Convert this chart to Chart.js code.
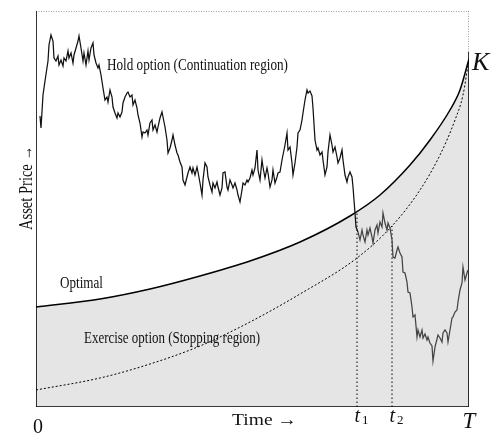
<!DOCTYPE html>
<html>
<head>
<meta charset="utf-8">
<script src="https://cdn.jsdelivr.net/npm/chart.js@4/dist/chart.umd.min.js"></script>
<style>
  body { margin: 0; background: #fff; }
  canvas { display: block; }
</style>
</head>
<body>
<canvas id="chart" width="497" height="436"></canvas>
<script>
// time runs 0..T_END, price 0..PRICE_TOP (arbitrary units)
const T_END = 433;
const PRICE_TOP = 396;
const K = 348;
const K_MARK = 355;

// optimal exercise boundary (solid)
const boundaryTime = [0, 64, 114, 164, 214, 264, 314, 344, 374, 394, 414, 424, 433];
const boundaryPrice = [100, 108, 118, 131, 146, 165, 191, 212, 242, 267, 297, 317, 348];

// lower dotted curve
const lowerTime = [0, 64, 114, 164, 214, 264, 321, 356, 384, 404, 419, 427, 433];
const lowerPrice = [17, 29, 43, 61, 85, 113, 149, 181, 217, 252, 287, 312, 348];

// stopping times t1, t2 and the level where the path hits the curve
const stopTimes = [321, 356];
const stopLevels = [194, 181];
const stopNames = ['1', '2'];

// asset price path [time, price]
const walk = [
  [4,291],[5,279],[7,312],[9,326],[12,346],[13,362],[15,372],[17,366],[18,349],[20,346],
  [22,351],[23,342],[25,347],[27,341],[28,349],[30,346],[32,356],[33,349],[35,354],[37,344],
  [38,352],[40,359],[42,366],[43,371],[45,359],[47,346],[48,354],[50,342],[52,356],[53,347],
  [55,359],[57,364],[58,352],[60,344],[62,339],[63,342],[65,332],[67,319],[69,307],[71,310],
  [72,305],[74,317],[76,310],[77,300],[79,294],[81,289],[82,294],[84,290],[86,295],[87,304],
  [89,310],[91,314],[92,315],[94,310],[96,312],[97,302],[99,307],[101,299],[102,292],[104,284],
  [106,270],[107,275],[109,274],[111,277],[112,272],[114,284],[116,287],[117,277],[119,282],[121,275],
  [122,280],[124,289],[126,295],[127,290],[129,280],[131,267],[132,254],[134,259],[136,267],[137,272],
  [139,262],[141,254],[142,252],[144,245],[146,240],[147,227],[149,222],[151,230],[152,234],[154,240],
  [156,234],[157,239],[159,232],[161,240],[162,235],[164,224],[166,212],[167,227],[169,244],[171,240],
  [172,230],[174,222],[176,215],[177,224],[179,219],[181,225],[182,220],[184,212],[186,219],[187,234],
  [189,235],[191,220],[192,217],[194,227],[196,222],[197,219],[199,224],[201,217],[202,212],[204,205],
  [206,217],[207,224],[209,222],[211,227],[212,225],[214,229],[216,237],[217,232],[219,239],[221,257],
  [222,237],[224,227],[226,247],[227,240],[229,229],[231,239],[232,234],[234,220],[236,227],[237,237],
  [239,224],[241,230],[242,234],[244,235],[246,247],[247,252],[249,262],[251,274],[252,257],[254,260],
  [256,244],[257,232],[259,244],[261,260],[262,274],[264,277],[266,287],[267,294],[269,307],[271,317],
  [272,314],[274,316],[276,311],[277,299],[279,267],[281,257],[282,259],[284,252],[286,255],[287,247],
  [289,232],[291,240],[292,255],[294,272],[296,262],[297,255],[299,260],[301,250],[302,244],[304,249],
  [306,257],[307,247],[309,232],[311,225],[312,230],[314,235],[316,230],[317,220],[318,207],[319,194],
  [320,180],[322,175],[324,167],[326,177],[327,172],[329,165],[331,177],[332,172],[334,179],[336,170],
  [337,164],[339,177],[341,182],[342,174],[344,185],[346,180],[347,194],[349,184],[351,177],[352,184],
  [354,179],[356,167],[357,150],[359,149],[361,157],[362,160],[364,154],[366,150],[367,135],[369,134],
  [371,125],[372,115],[374,114],[376,100],[377,90],[379,92],[381,70],[382,77],[384,70],[386,77],
  [387,69],[389,73],[391,67],[392,70],[394,64],[396,61],[397,46],[399,60],[401,68],[402,72],
  [404,69],[406,65],[407,74],[409,77],[411,74],[412,65],[414,77],[416,89],[417,90],[419,95],
  [421,97],[422,105],[424,117],[426,124],[427,140],[429,127],[431,134],[432,137]
];

const pts = (xs, ys) => xs.map((x, i) => ({x: x, y: ys[i]}));

const SERIF = '"Liberation Serif", "DejaVu Serif", serif';

function lineSet(data, opts) {
  return Object.assign({
    data: data,
    borderColor: '#000',
    borderWidth: 1,
    pointRadius: 0,
    tension: 0,
    fill: false,
    order: 0
  }, opts);
}

function fitText(ctx, text, x, y, width, font) {
  ctx.save();
  ctx.font = font;
  const w = ctx.measureText(text).width;
  ctx.translate(x, y);
  ctx.scale(width / w, 1);
  ctx.fillText(text, 0, 0);
  ctx.restore();
}

const labels = {
  id: 'labels',
  afterDatasetsDraw(chart) {
    const ctx = chart.ctx;
    const xs = chart.scales.x;
    const ys = chart.scales.y;
    const X = (v) => xs.getPixelForValue(v);
    const Y = (v) => ys.getPixelForValue(v);
    ctx.save();
    ctx.fillStyle = '#111';
    ctx.textBaseline = 'alphabetic';
    ctx.textAlign = 'left';

    fitText(ctx, 'Hold option (Continuation region)', X(71), Y(337), 181, `17px ${SERIF}`);
    fitText(ctx, 'Optimal', X(24), Y(119), 43, `17px ${SERIF}`);
    fitText(ctx, 'Exercise option (Stopping region)', X(48), Y(64), 176, `17px ${SERIF}`);
    fitText(ctx, 'Time \u2192', X(196), Y(-18), 65, `17px ${SERIF}`);

    // y axis title
    ctx.save();
    ctx.translate(X(0) - 4, Y(219));
    ctx.rotate(-Math.PI / 2);
    fitText(ctx, 'Asset Price \u2192', -42, 0, 84, `18px ${SERIF}`);
    ctx.restore();

    ctx.font = `20px ${SERIF}`;
    ctx.textAlign = 'center';
    ctx.fillText('0', X(2), Y(-26));

    stopTimes.forEach((t, i) => {
      ctx.font = `italic 20px ${SERIF}`;
      ctx.textAlign = 'right';
      ctx.fillText('t', X(t) + 3, Y(-15));
      ctx.font = `13px ${SERIF}`;
      ctx.textAlign = 'left';
      ctx.fillText(stopNames[i], X(t) + 5, Y(-17));
    });

    ctx.font = `italic 23px ${SERIF}`;
    ctx.textAlign = 'center';
    ctx.fillText('T', X(T_END), Y(-21));
    ctx.textAlign = 'left';
    ctx.font = `italic 26px ${SERIF}`;
    ctx.fillText('K', X(T_END) + 3, Y(K - 11));
    ctx.restore();
  }
};

new Chart(document.getElementById('chart'), {
  type: 'line',
  data: {
    datasets: [
      lineSet(pts(boundaryTime, boundaryPrice), {
        borderWidth: 1.5,
        cubicInterpolationMode: 'monotone',
        fill: 'origin',
        backgroundColor: '#e5e5e5',
        order: 10
      }),
      lineSet(pts(lowerTime, lowerPrice), {
        borderWidth: 1,
        borderDash: [2, 2],
        cubicInterpolationMode: 'monotone',
        order: 5
      }),
      ...stopTimes.map((t, i) => lineSet([{x: t, y: 0}, {x: t, y: stopLevels[i]}], {
        borderWidth: 1,
        borderDash: [1.5, 2.5],
        order: 5
      })),
      lineSet(walk.map(([x, y]) => ({x, y})), {
        borderWidth: 1.25,
        segment: {
          borderColor: (c) => c.p0.parsed.x >= stopTimes[0] ? '#444' : '#111'
        }
      }),
      // frame
      lineSet([{x: 0, y: 0}, {x: 0, y: PRICE_TOP}], {borderWidth: 1.6}),
      lineSet([{x: 0, y: 0}, {x: T_END, y: 0}], {borderWidth: 1.6}),
      lineSet([{x: 0, y: PRICE_TOP}, {x: T_END, y: PRICE_TOP}], {borderWidth: 1, borderDash: [1, 1.5], borderColor: '#444'}),
      lineSet([{x: T_END, y: PRICE_TOP}, {x: T_END, y: K_MARK}], {borderWidth: 1, borderDash: [1, 1.5], borderColor: '#444'}),
      lineSet([{x: T_END, y: K_MARK}, {x: T_END, y: 0}], {borderWidth: 1.6})
    ]
  },
  options: {
    responsive: false,
    animation: false,
    layout: {padding: {left: 36, right: 28, top: 11, bottom: 29}},
    plugins: {legend: {display: false}, tooltip: {enabled: false}},
    scales: {
      x: {type: 'linear', min: 0, max: T_END, display: false},
      y: {type: 'linear', min: 0, max: PRICE_TOP, display: false}
    }
  },
  plugins: [labels]
});
</script>
</body>
</html>
